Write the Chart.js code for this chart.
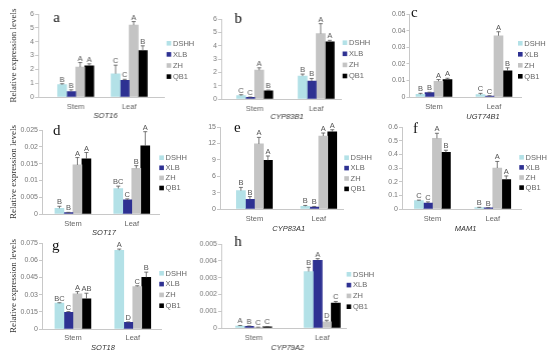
<!DOCTYPE html>
<html>
<head>
<meta charset="utf-8">
<script src="https://cdn.jsdelivr.net/npm/chart.js@4.4.1/dist/chart.umd.min.js"></script>
<style>
html, body { margin: 0; padding: 0; background: #fff; }
#wrap { position: relative; width: 550px; height: 357px; overflow: hidden; }
#wrap canvas { position: absolute; }
</style>
</head>
<body>
<div id="wrap"></div>
<script>
var categories = ['Stem', 'Leaf'];
var cultivars = ['DSHH', 'XLB', 'ZH', 'QB1'];

// mean values: [stem (DSHH, XLB, ZH, QB1)], [leaf (...)]
var sot16Mean = [[0.89, 0.40, 2.16, 2.25], [1.68, 1.20, 5.20, 3.36]];
var sot16Err = [[0.07, 0.12, 0.33, 0.15], [0.62, 0.08, 0.25, 0.34]];
var sot16Sig = [['B', 'B', 'A', 'A'], ['C', 'C', 'A', 'B']];
var sot16Ticks = [0, 1, 2, 3, 4, 5, 6];

var cyp83b1Mean = [[0.25, 0.12, 2.16, 0.62], [1.72, 1.34, 4.90, 4.28]];
var cyp83b1Err = [[0.07, 0.03, 0.18, 0.05], [0.15, 0.20, 0.75, 0.12]];
var cyp83b1Sig = [['C', 'C', 'A', 'B'], ['B', 'B', 'A', 'A']];
var cyp83b1Ticks = [0, 1, 2, 3, 4, 5, 6];

var ugt74b1Mean = [[0.0016, 0.0026, 0.0095, 0.0105], [0.0014, 0.0006, 0.0369, 0.0158]];
var ugt74b1Err = [[0.0006, 0.0003, 0.0010, 0.0008], [0.0008, 0.0002, 0.0024, 0.0018]];
var ugt74b1Sig = [['B', 'B', 'A', 'A'], ['C', 'C', 'A', 'B']];
var ugt74b1Ticks = [0, 0.01, 0.02, 0.03, 0.04, 0.05];

var sot17Mean = [[0.0017, 0.0004, 0.0146, 0.0164], [0.0076, 0.0042, 0.0136, 0.0203]];
var sot17Err = [[0.0006, 0.0001, 0.0022, 0.0019], [0.0007, 0.0003, 0.0008, 0.0042]];
var sot17Sig = [['B', 'B', 'A', 'A'], ['BC', 'C', 'B', 'A']];
var sot17Ticks = [0, 0.005, 0.01, 0.015, 0.02, 0.025];

var cyp83a1Mean = [[3.35, 1.77, 11.9, 8.9], [0.50, 0.37, 13.35, 14.1]];
var cyp83a1Err = [[0.6, 0.5, 1.2, 0.8], [0.15, 0.1, 0.55, 0.4]];
var cyp83a1Sig = [['B', 'B', 'A', 'A'], ['B', 'B', 'A', 'A']];
var cyp83a1Ticks = [0, 3, 6, 9, 12, 15];

var mam1Mean = [[0.061, 0.044, 0.517, 0.415], [0.0095, 0.008, 0.300, 0.215]];
var mam1Err = [[0.004, 0.008, 0.037, 0.015], [0.003, 0.002, 0.048, 0.027]];
var mam1Sig = [['C', 'C', 'A', 'B'], ['B', 'B', 'A', 'A']];
var mam1Ticks = [0, 0.1, 0.2, 0.3, 0.4, 0.5, 0.6];

var sot18Mean = [[0.0225, 0.0146, 0.0306, 0.0263], [0.0686, 0.0058, 0.0371, 0.0450]];
var sot18Err = [[0.0004, 0.0006, 0.0020, 0.0049], [0.0011, 0.0004, 0.0006, 0.0046]];
var sot18Sig = [['BC', 'C', 'A', 'AB'], ['A', 'D', 'C', 'B']];
var sot18Ticks = [0, 0.015, 0.03, 0.045, 0.06, 0.075];

var cyp79a2Mean = [[0.00012, 0.00010, 0.00004, 0.00007], [0.00336, 0.00403, 0.00036, 0.00148]];
var cyp79a2Err = [[0.00003, 0.00002, 0.00001, 0.00002], [0.00025, 0.00010, 0.00010, 0.00010]];
var cyp79a2Sig = [['A', 'B', 'C', 'C'], ['B', 'A', 'D', 'C']];
var cyp79a2Ticks = [0, 0.001, 0.002, 0.003, 0.004, 0.005];

var barColors = ['#b3e1e7', '#2e3192', '#c4c4c4', '#000000'];

Chart.defaults.font.family = "'Liberation Sans', Arial, sans-serif";

// layout of each panel, page coordinates
var panels = [
  { gene: 'SOT16', letter: 'a', mean: sot16Mean, err: sot16Err, sig: sot16Sig, ticks: sot16Ticks, title: true,
    left: 0, axisX: 38, axisEnd: 164, yTop: 14, y0: 97, stem: 75.5, leaf: 129,
    legX: 165.7, legY: 43.3, legGap: 11.1, letX: 53, letY: 22, catY: 106, geneX: 105, geneY: 116 },
  { gene: 'CYP83B1', letter: 'b', mean: cyp83b1Mean, err: cyp83b1Err, sig: cyp83b1Sig, ticks: cyp83b1Ticks,
    left: 185, axisX: 221, axisEnd: 341, yTop: 19, y0: 99, stem: 254.5, leaf: 316,
    legX: 341.7, legY: 42.7, legGap: 11.1, letX: 234.3, letY: 23, catY: 108, geneX: 286.5, geneY: 117 },
  { gene: 'UGT74B1', letter: 'c', mean: ugt74b1Mean, err: ugt74b1Err, sig: ugt74b1Sig, ticks: ugt74b1Ticks,
    left: 370, axisX: 409.5, axisEnd: 521, yTop: 14, y0: 97, stem: 434, leaf: 494,
    legX: 518, legY: 43.3, legGap: 11, letX: 411, letY: 17, catY: 106, geneX: 483, geneY: 117 },
  { gene: 'SOT17', letter: 'd', mean: sot17Mean, err: sot17Err, sig: sot17Sig, ticks: sot17Ticks, title: true,
    left: 0, axisX: 42, axisEnd: 160, yTop: 130, y0: 214, stem: 73, leaf: 132,
    legX: 159.3, legY: 157.7, legGap: 10.1, letX: 53, letY: 135, catY: 223, geneX: 104, geneY: 233 },
  { gene: 'CYP83A1', letter: 'e', mean: cyp83a1Mean, err: cyp83a1Err, sig: cyp83a1Sig, ticks: cyp83a1Ticks,
    left: 185, axisX: 220, axisEnd: 344, yTop: 127, y0: 209, stem: 254.5, leaf: 319,
    legX: 344.3, legY: 157.7, legGap: 10.4, letX: 234, letY: 132, catY: 218, geneX: 288.7, geneY: 229 },
  { gene: 'MAM1', letter: 'f', mean: mam1Mean, err: mam1Err, sig: mam1Sig, ticks: mam1Ticks,
    left: 370, axisX: 402, axisEnd: 522, yTop: 127, y0: 209, stem: 432.5, leaf: 493,
    legX: 519.3, legY: 157.3, legGap: 10.1, letX: 413, letY: 133, catY: 218, geneX: 465.5, geneY: 229 },
  { gene: 'SOT18', letter: 'g', mean: sot18Mean, err: sot18Err, sig: sot18Sig, ticks: sot18Ticks, title: true,
    left: 0, axisX: 42, axisEnd: 162, yTop: 243, y0: 329, stem: 73, leaf: 133,
    legX: 159.3, legY: 273.3, legGap: 10.8, letX: 52, letY: 250, catY: 337, geneX: 103, geneY: 348 },
  { gene: 'CYP79A2', letter: 'h', mean: cyp79a2Mean, err: cyp79a2Err, sig: cyp79a2Sig, ticks: cyp79a2Ticks,
    left: 185, axisX: 221, axisEnd: 346, yTop: 244, y0: 328, stem: 253.5, leaf: 322,
    legX: 345.7, legY: 274.3, legGap: 10.8, letX: 234, letY: 246, catY: 337, geneX: 287, geneY: 348 }
];

// error bars, significance letters, panel letter, gene name, legend
var extrasPlugin = {
  id: 'extras',
  afterDatasetsDraw: function(chart) {
    var p = chart.options.plugins.extras.panel;
    var L = p.left, T = p.yTop - 12;
    var ctx = chart.ctx;
    var yScale = chart.scales.y;
    ctx.save();
    chart.data.datasets.forEach(function(ds, i) {
      var meta = chart.getDatasetMeta(i);
      meta.data.forEach(function(bar, j) {
        var v = p.mean[j][i], e = p.err[j][i];
        var yb = yScale.getPixelForValue(v);
        var ye = yScale.getPixelForValue(v + e);
        ctx.strokeStyle = '#555';
        ctx.lineWidth = 0.8;
        ctx.beginPath();
        ctx.moveTo(bar.x, yb);
        ctx.lineTo(bar.x, ye);
        ctx.moveTo(bar.x - 2, ye);
        ctx.lineTo(bar.x + 2, ye);
        ctx.stroke();
        ctx.fillStyle = '#555';
        ctx.font = "7.5px 'Liberation Sans', Arial, sans-serif";
        ctx.textAlign = 'center';
        ctx.textBaseline = 'alphabetic';
        ctx.fillText(p.sig[j][i], bar.x, ye - 2);
      });
    });
    // panel letter
    ctx.fillStyle = '#111';
    ctx.font = "15px 'Liberation Serif', 'Times New Roman', serif";
    ctx.textAlign = 'left';
    ctx.textBaseline = 'alphabetic';
    ctx.fillText(p.letter, p.letX - L, p.letY - T);
    // gene name
    ctx.fillStyle = '#333';
    ctx.font = "italic 7.5px 'Liberation Sans', Arial, sans-serif";
    ctx.textAlign = 'center';
    ctx.textBaseline = 'middle';
    ctx.fillText(p.gene, p.geneX - L, p.geneY - T);
    // legend
    ctx.font = "7.5px 'Liberation Sans', Arial, sans-serif";
    ctx.textAlign = 'left';
    cultivars.forEach(function(name, i) {
      var y = p.legY + i * p.legGap - T;
      ctx.fillStyle = barColors[i];
      ctx.fillRect(p.legX - L, y - 2.3, 4.6, 4.6);
      ctx.fillStyle = '#666';
      ctx.fillText(name, p.legX - L + 6.3, y + 0.3);
    });
    ctx.restore();
  }
};

var wrap = document.getElementById('wrap');

panels.forEach(function(p) {
  var L = p.left;
  var T = p.yTop - 12;
  var W = p.legX + 30 - L;
  var H = p.geneY + 8 - T;
  var canvas = document.createElement('canvas');
  canvas.width = W;
  canvas.height = H;
  canvas.style.left = L + 'px';
  canvas.style.top = T + 'px';
  canvas.style.width = W + 'px';
  canvas.style.height = H + 'px';
  wrap.appendChild(canvas);

  var unit = p.leaf - p.stem;
  var xMin = -(p.stem - p.axisX) / unit;
  var xMax = 1 + (p.axisEnd - p.leaf) / unit;

  var datasets = cultivars.map(function(name, i) {
    return {
      label: name,
      data: [{ x: 0, y: p.mean[0][i] }, { x: 1, y: p.mean[1][i] }],
      backgroundColor: barColors[i],
      borderWidth: 0,
      barThickness: 9
    };
  });

  new Chart(canvas, {
    type: 'bar',
    data: { datasets: datasets },
    options: {
      responsive: false,
      animation: false,
      events: [],
      layout: { padding: { top: p.yTop - T, right: W - (p.axisEnd - L), left: 0, bottom: 0 } },
      plugins: {
        legend: { display: false },
        tooltip: { enabled: false },
        extras: { panel: p }
      },
      scales: {
        x: {
          type: 'linear',
          min: xMin,
          max: xMax,
          offset: false,
          afterBuildTicks: function(s) { s.ticks = [{ value: 0 }, { value: 1 }]; },
          afterFit: function(s) { s.height = H - (p.y0 - T); },
          grid: { display: false, drawTicks: false, tickLength: 0 },
          border: { display: true, color: '#c8c8c8', width: 1 },
          ticks: {
            callback: function(v) { return categories[v]; },
            font: { size: 7.5 },
            color: '#666',
            padding: p.catY - p.y0 - 4,
            maxRotation: 0,
            autoSkip: false
          }
        },
        y: {
          min: 0,
          max: p.ticks[p.ticks.length - 1],
          afterBuildTicks: function(s) { s.ticks = p.ticks.map(function(v) { return { value: v }; }); },
          afterFit: function(s) { s.width = p.axisX - L; },
          grid: { display: true, drawOnChartArea: false, drawTicks: true, tickLength: 3, color: '#c8c8c8' },
          border: { display: true, color: '#c8c8c8', width: 1 },
          ticks: {
            callback: function(v) { return String(v); },
            font: { size: 7 },
            color: '#777',
            padding: 1
          },
          title: p.title ? {
            display: true,
            text: 'Relative expression levels',
            font: { family: "'Liberation Serif', 'Times New Roman', serif", size: 9 },
            color: '#333',
            padding: { top: 8, bottom: 0 }
          } : { display: false }
        }
      }
    },
    plugins: [extrasPlugin]
  });
});
</script>
</body>
</html>
